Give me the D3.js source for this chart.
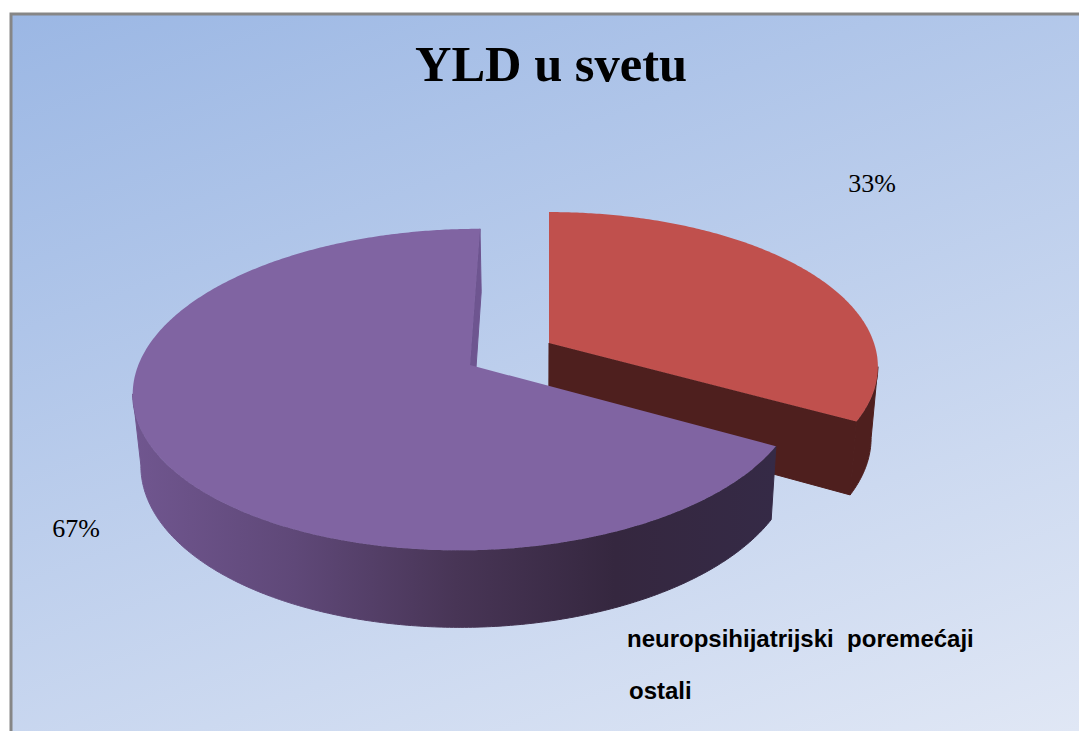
<!DOCTYPE html>
<html>
<head>
<meta charset="utf-8">
<title>YLD u svetu</title>
<script src="https://cdn.jsdelivr.net/npm/d3@7"></script>
<style>
  html, body { margin: 0; padding: 0; background: #fff; }
  svg { display: block; }
</style>
</head>
<body>
<div id="chart"></div>
<script>
const chartTitle = 'YLD u svetu';
const categories = ['neuropsihijatrijski  poremećaji', 'ostali'];
const values = [33, 67];
const percentLabels = ['33%', '67%'];

const width = 1079;
const height = 731;

// perspective of each exploded slice: apex on screen, radii, foreshortening
const sliceGeo = [
  { cx: 549, cy: 343, b: 325, a: 151, k: 0.153, h: 0, shear: 0, top: '#c0504d', wall: '#4e1f1e', cut: '#4e1f1e' },
  { cx: 470, cy: 365, b: 330, a: 157, k: 0.153, h: 0.005, shear: 10, top: '#8064a2', wall: 'url(#purpleWall)', cut: '#6e5590' },
];
const labelPos = [[872, 192], [76, 537]];
const legendPos = [[627, 647], [629, 699]];

const vanishX = 540;
const bottomShrink = 0.98;

function project(geo, angle, r, lower) {
  const u = Math.sin(angle) * r;
  const v = -Math.cos(angle) * r;
  const den = 1 - geo.k * v + geo.h * u;
  let x = geo.cx + geo.b * u / den - geo.shear * v;
  let y = geo.cy + geo.a * v / den;
  if (lower) {
    x = vanishX + (x - vanishX) * bottomShrink;
    y += 70 + 7 * v;
  }
  return [x, y];
}

function rimAngles(a0, a1) {
  const n = Math.max(2, Math.ceil(Math.abs(a1 - a0) / 0.01));
  return d3.range(n + 1).map((i) => a0 + (a1 - a0) * i / n);
}

const svg = d3.select('#chart').append('svg')
  .attr('width', width)
  .attr('height', height)
  .attr('viewBox', `0 0 ${width} ${height}`);

const defs = svg.append('defs');
const bg = defs.append('linearGradient')
  .attr('id', 'bgGrad')
  .attr('gradientUnits', 'userSpaceOnUse')
  .attr('x1', 12).attr('y1', 15).attr('x2', 364).attr('y2', 989);
bg.append('stop').attr('offset', '0').attr('stop-color', '#9bb7e4');
bg.append('stop').attr('offset', '1').attr('stop-color', '#e0e7f5');

const wallGrad = defs.append('linearGradient')
  .attr('id', 'purpleWall')
  .attr('gradientUnits', 'userSpaceOnUse')
  .attr('x1', 135).attr('y1', 0).attr('x2', 775).attr('y2', 0);
[[0, '#70568f'], [0.25, '#5f4878'], [0.5, '#483556'], [0.75, '#35273f'], [1, '#352a46']].forEach((s) => {
  wallGrad.append('stop').attr('offset', s[0]).attr('stop-color', s[1]);
});

// frame and background
svg.append('rect')
  .attr('x', 11).attr('y', 14)
  .attr('width', width).attr('height', height)
  .attr('fill', 'url(#bgGrad)')
  .attr('stroke', '#868686')
  .attr('stroke-width', 3);

const line = d3.line();
const pie = d3.pie().sort(null).value((d) => d);
const arcs = pie(values);

arcs.forEach((d, i) => {
  const geo = sliceGeo[i];
  const g = svg.append('g');
  const angles = rimAngles(d.startAngle, d.endAngle);

  // outer wall, only the part of the rim that faces the viewer
  const xs = angles.map((a) => project(geo, a, 1, false)[0]);
  const from = i === 0 ? d3.greatestIndex(xs) : 0;
  const to = i === 0 ? angles.length - 1 : d3.leastIndex(xs);
  const front = angles.slice(from, to + 1);
  const band = front.map((a) => project(geo, a, 1, false))
    .concat(front.slice().reverse().map((a) => project(geo, a, 1, true)));
  g.append('path')
    .attr('d', line(band) + 'Z')
    .attr('fill', geo.wall)
    .attr('stroke', geo.wall)
    .attr('stroke-width', 1);

  // cut wall at the end of the slice
  const cut = [
    project(geo, d.endAngle, 0, false),
    project(geo, d.endAngle, 1, false),
    project(geo, d.endAngle, 1, true),
    project(geo, d.endAngle, 0, true),
  ];
  g.append('path')
    .attr('d', line(cut) + 'Z')
    .attr('fill', geo.cut)
    .attr('stroke', geo.cut)
    .attr('stroke-width', 1);

  // top face
  const face = [project(geo, 0, 0, false)].concat(angles.map((a) => project(geo, a, 1, false)));
  g.append('path').attr('d', line(face) + 'Z').attr('fill', geo.top);
});

svg.append('text')
  .attr('x', 551).attr('y', 81)
  .attr('text-anchor', 'middle')
  .attr('font-family', '"Liberation Serif", serif')
  .attr('font-weight', 'bold')
  .attr('font-size', 50.5)
  .attr('fill', '#000')
  .text(chartTitle);

svg.selectAll('text.pct')
  .data(percentLabels)
  .join('text')
  .attr('class', 'pct')
  .attr('x', (d, i) => labelPos[i][0])
  .attr('y', (d, i) => labelPos[i][1])
  .attr('text-anchor', 'middle')
  .attr('font-family', '"Liberation Serif", serif')
  .attr('font-size', 26)
  .attr('fill', '#000')
  .text((d) => d);

svg.selectAll('text.legend')
  .data(categories)
  .join('text')
  .attr('class', 'legend')
  .attr('x', (d, i) => legendPos[i][0])
  .attr('y', (d, i) => legendPos[i][1])
  .attr('font-family', '"Liberation Sans", sans-serif')
  .attr('font-weight', 'bold')
  .attr('font-size', 24)
  .attr('fill', '#000')
  .style('white-space', 'pre')
  .text((d) => d);
</script>
</body>
</html>
